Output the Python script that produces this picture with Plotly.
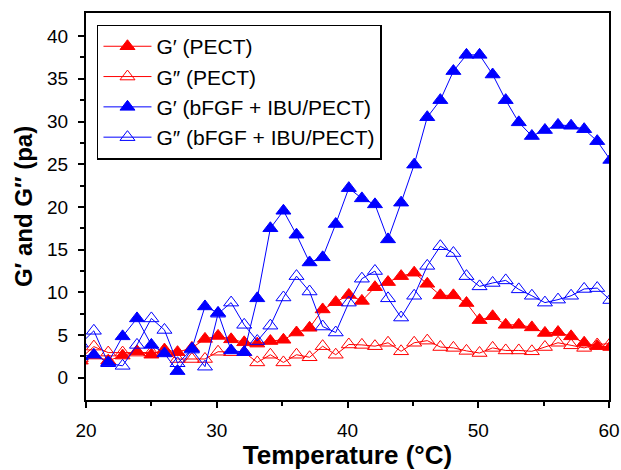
import plotly.graph_objects as go

temperature = [19.6, 20.6, 21.7, 22.8, 23.9, 25.0, 26.0, 27.0, 28.1, 29.1,
               30.1, 31.1, 32.1, 33.1, 34.1, 35.1, 36.1, 37.1, 38.1, 39.1,
               40.1, 41.1, 42.1, 43.1, 44.1, 45.1, 46.1, 47.1, 48.1, 49.1,
               50.1, 51.1, 52.1, 53.1, 54.1, 55.1, 56.1, 57.1, 58.1, 59.1, 60.1]

g1_pect = [2.0, 2.6, 2.0, 2.6, 3.1, 2.7, 3.3, 3.0, 3.5, 4.55,
           4.9, 4.5, 4.15, 4.0, 4.3, 4.45, 5.3, 5.85, 8.0, 8.85,
           9.7, 9.0, 10.6, 11.2, 11.9, 12.3, 11.0, 9.65, 9.65, 8.75,
           6.75, 7.2, 6.2, 6.2, 5.9, 5.25, 5.35, 4.85, 4.1, 3.7, 3.6]

g2_pect = [2.3, 3.65, 2.95, 2.95, 2.95, 3.0, 2.95, 2.2, 2.2, 2.2,
           3.05, 3.0, 3.0, 1.8, 2.7, 1.8, 2.7, 2.4, 3.7, 2.7,
           3.9, 3.85, 3.7, 4.1, 3.1, 4.1, 4.35, 3.6, 3.5, 3.15,
           2.9, 3.5, 3.2, 3.2, 3.1, 3.6, 4.1, 3.8, 3.5, 3.9, 4.0]

g1_bfgf = [2.5, 2.7, 1.8, 4.85, 6.95, 3.85, 2.85, 0.78, 3.4, 8.35,
           7.6, 3.2, 3.0, 9.3, 17.5, 19.55, 16.75, 13.5, 14.1, 18.0,
           22.2, 21.0, 20.3, 16.2, 20.5, 24.95, 30.5, 32.5, 35.9, 37.8,
           37.8, 35.5, 32.5, 29.9, 28.3, 29.0, 29.6, 29.5, 29.1, 27.7, 25.5]

g2_bfgf = [4.0, 5.5, 1.7, 1.4, 3.85, 6.95, 5.6, 1.7, 3.3, 1.3,
           7.5, 8.8, 6.2, 4.3, 6.1, 9.4, 11.9, 10.1, 6.0, 5.3,
           8.8, 11.6, 12.5, 9.3, 7.05, 9.6, 13.1, 15.4, 14.6, 11.9,
           10.7, 11.1, 11.4, 10.35, 9.6, 8.8, 9.15, 9.6, 10.4, 10.5, 9.1]

x_ticks = [20, 30, 40, 50, 60]
y_ticks = [0, 5, 10, 15, 20, 25, 30, 35, 40]

series = [
    ("G′ (PECT)", g1_pect, "#FF0000", "triangle-up"),
    ("G″ (PECT)", g2_pect, "#FF0000", "triangle-up-open"),
    ("G′ (bFGF + IBU/PECT)", g1_bfgf, "#0000FF", "triangle-up"),
    ("G″ (bFGF + IBU/PECT)", g2_bfgf, "#0000FF", "triangle-up-open"),
]

fig = go.Figure()
for name, vals, color, sym in series:
    fig.add_trace(go.Scatter(
        x=temperature, y=vals, name=name, mode="lines+markers",
        line=dict(color=color, width=1),
        marker=dict(symbol=sym, size=13, color=color, line=dict(color=color, width=1)),
    ))

FONT = "Arial, Liberation Sans, sans-serif"
fig.update_layout(
    width=621, height=470,
    margin=dict(l=86, r=12, t=13, b=70),
    paper_bgcolor="white", plot_bgcolor="white",
    font=dict(family=FONT, color="black", size=19),
    showlegend=True,
    legend=dict(x=0.021, y=0.97, xanchor="left", yanchor="top",
                bordercolor="black", borderwidth=1.5, bgcolor="white",
                font=dict(size=21), itemwidth=48, tracegroupgap=0),
)
fig.update_xaxes(
    range=[20, 60], tickvals=x_ticks,
    showline=True, linecolor="black", linewidth=2, mirror=True,
    ticks="outside", ticklen=6, tickwidth=2, tickcolor="black",
    minor=dict(tickvals=[25, 35, 45, 55], ticks="outside", ticklen=4, tickwidth=2, tickcolor="black"),
    showgrid=False, zeroline=False, automargin=False,
    tickfont=dict(size=19), ticklabelstandoff=6,
    title=dict(text="<b>Temperature (°C)</b>", font=dict(size=26), standoff=8),
)
fig.update_yaxes(
    range=[-2.6, 42.7], tickvals=y_ticks,
    showline=True, linecolor="black", linewidth=2, mirror=True,
    ticks="outside", ticklen=6, tickwidth=2, tickcolor="black",
    minor=dict(tickvals=[2.5, 7.5, 12.5, 17.5, 22.5, 27.5, 32.5, 37.5], ticks="outside", ticklen=4, tickwidth=2, tickcolor="black"),
    showgrid=False, zeroline=False, automargin=False,
    tickfont=dict(size=19), ticklabelstandoff=6,
    title=dict(text="<b>G′ and G″ (pa)</b>", font=dict(size=24), standoff=8),
)
fig.write_html("out.html", config={"displayModeBar": False},
               post_script="document.body.style.margin='0';document.body.style.overflow='hidden';")
